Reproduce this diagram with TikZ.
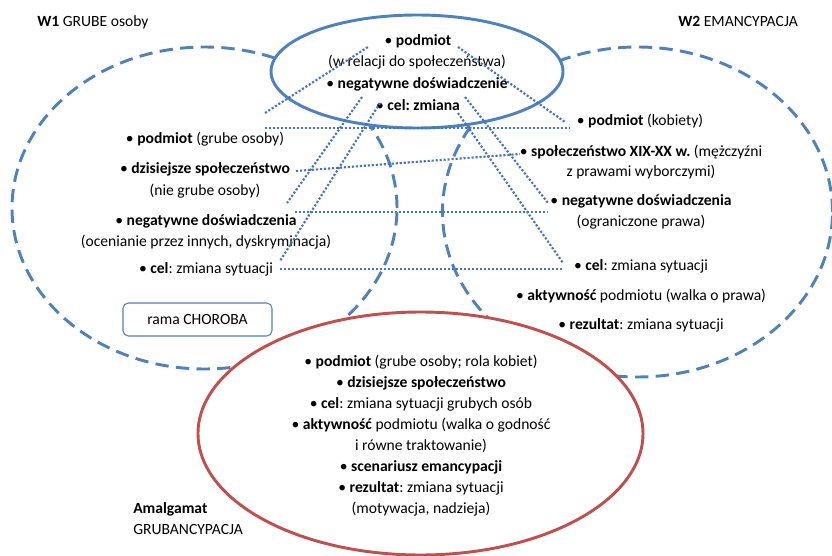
\documentclass[tikz,border=0pt]{standalone}
\usepackage{fontspec}
\setmainfont{Carlito}
\usetikzlibrary{shapes.geometric}
\definecolor{blueA}{RGB}{79,129,189}
\definecolor{blueD}{RGB}{68,114,196}
\definecolor{redA}{RGB}{192,80,77}
\frenchspacing
\begin{document}
\begin{tikzpicture}[x=0.75pt,y=-0.75pt,
  txt/.style={font=\fontsize{11.7pt}{14pt}\selectfont, inner sep=0pt, text height=8pt, text depth=3pt, anchor=center},
  lft/.style={txt, anchor=west},
  dashell/.style={ellipse, draw=blueA, line width=2.2pt, dash pattern=on 10pt off 5.5pt, inner sep=0pt, outer sep=0pt},
  topell/.style={ellipse, draw=blueA, fill=white, line width=2.2pt, inner sep=0pt, outer sep=0pt},
  redell/.style={ellipse, draw=redA, fill=white, line width=2.2pt, inner sep=0pt, outer sep=0pt},
  ramabox/.style={draw=blueA, fill=white, rounded corners=4pt, line width=0.8pt, inner sep=0pt, font=\fontsize{11.7pt}{14pt}\selectfont},
  dotln/.style={draw=blueD, line width=1.6pt, dash pattern=on 1.6pt off 1.4pt}
]
\useasboundingbox (0,0) rectangle (832,556);
% ellipses
\node[dashell, minimum width=288.75pt, minimum height=241.5pt] (w1) at (204.5,208) {};
\node[dashell, minimum width=292.5pt, minimum height=247.5pt] (w2) at (637.5,212) {};
\node[topell, minimum width=219pt, minimum height=84.75pt] (gen) at (417,71.5) {};
\node[redell, minimum width=333.75pt, minimum height=182.25pt] (amal) at (420.5,433.5) {};
\node[ramabox, minimum width=111.75pt, minimum height=24.75pt] (rama) at (197.5,319.5) {rama CHOROBA};

% titles
\node[lft] (t1) at (37,23) {\textbf{W1} GRUBE osoby};
\node[lft] (t2) at (678,23) {\textbf{W2} EMANCYPACJA};
\node[lft] (t3) at (133,510) {\textbf{Amalgamat}};
\node[lft] (t4) at (133,531) {GRUBANCYPACJA};

% top ellipse text
\node[txt] (g1) at (418,42) {• \textbf{podmiot}};
\node[txt] (g2) at (417,63) {(w relacji do społeczeństwa)};
\node[txt] (g3) at (417,85) {• \textbf{negatywne doświadczenie}};
\node[txt] (g4) at (418,107) {• \textbf{cel: zmiana}};

% left ellipse text
\node[txt] (l1) at (205,140) {• \textbf{podmiot} (grube osoby)};
\node[txt] (l2) at (205,170) {• \textbf{dzisiejsze społeczeństwo}};
\node[txt] (l3) at (205,192) {(nie grube osoby)};
\node[txt] (l4) at (206,222) {• \textbf{negatywne doświadczenia}};
\node[txt] (l5) at (206,243) {(ocenianie przez innych, dyskryminacja)};
\node[txt] (l6) at (206,270) {• \textbf{cel}: zmiana sytuacji};

% right ellipse text
\node[txt] (r1) at (640,122) {• \textbf{podmiot} (kobiety)};
\node[txt] (r2) at (641,153) {• \textbf{społeczeństwo XIX-XX w.} (mężczyźni};
\node[txt] (r3) at (641,173) {z prawami wyborczymi)};
\node[txt] (r4) at (641,202) {• \textbf{negatywne doświadczenia}};
\node[txt] (r5) at (641,223) {(ograniczone prawa)};
\node[txt] (r6) at (641,267) {• \textbf{cel}: zmiana sytuacji};
\node[txt] (r7) at (641,297) {• \textbf{aktywność} podmiotu (walka o prawa)};
\node[txt] (r8) at (641,326) {• \textbf{rezultat}: zmiana sytuacji};

% amalgam text
\node[txt] (a1) at (421,363) {• \textbf{podmiot} (grube osoby; rola kobiet)};
\node[txt] (a2) at (421,384) {• \textbf{dzisiejsze społeczeństwo}};
\node[txt] (a3) at (421,405) {• \textbf{cel}: zmiana sytuacji grubych osób};
\node[txt] (a4) at (421,426) {• \textbf{aktywność} podmiotu (walka o godność};
\node[txt] (a5) at (421,447) {i równe traktowanie)};
\node[txt] (a6) at (421,468) {• \textbf{scenariusz emancypacji}};
\node[txt] (a7) at (421,489) {• \textbf{rezultat}: zmiana sytuacji};
\node[txt] (a8) at (421,510) {(motywacja, nadzieja)};

% connector end points
\coordinate (ca1) at (265,113);  \coordinate (ca2) at (368,47);
\coordinate (cb1) at (362,97);   \coordinate (cb2) at (287,203);
\coordinate (cc1) at (380,103);  \coordinate (cc2) at (280,261);
\coordinate (cd1) at (458,47);   \coordinate (cd2) at (565,122);
\coordinate (ce1) at (465,97);   \coordinate (ce2) at (548,203);
\coordinate (cf1) at (458,113);  \coordinate (cf2) at (563,263);
\coordinate (h1a) at (265,128);  \coordinate (h1b) at (570,128);
\coordinate (h2a) at (296,171);  \coordinate (h2b) at (520,154);
\coordinate (h3a) at (295,212);  \coordinate (h3b) at (548,212);
\coordinate (h4a) at (280,269);  \coordinate (h4b) at (562,269);

\draw[dotln] (ca1) -- (ca2);
\draw[dotln] (cb1) -- (cb2);
\draw[dotln] (cc1) -- (cc2);
\draw[dotln] (cd1) -- (cd2);
\draw[dotln] (ce1) -- (ce2);
\draw[dotln] (cf1) -- (cf2);
\draw[dotln] (h1a) -- (h1b);
\draw[dotln] (h2a) -- (h2b);
\draw[dotln] (h3a) -- (h3b);
\draw[dotln] (h4a) -- (h4b);
\end{tikzpicture}
\end{document}
